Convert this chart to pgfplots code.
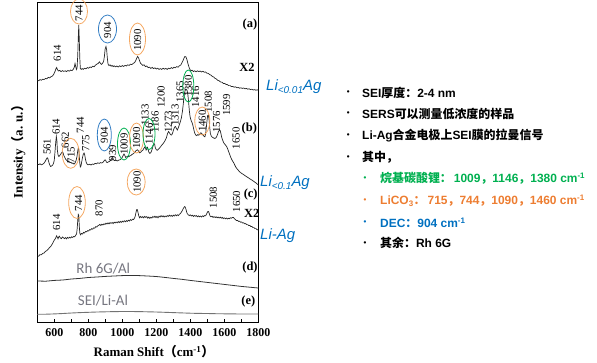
\documentclass[border=0pt]{standalone}
\usepackage{pgfplots}
\pgfplotsset{compat=1.18}
\usepackage{fontspec}
\setmainfont{Liberation Serif}
\newfontfamily\arial{Liberation Sans}
\newfontfamily\cjk{Noto Sans CJK SC Bold}
\newfontfamily\calibri{Carlito}
\newcommand\C[1]{{\cjk #1}}
\newcommand\pp[2]{(#1bp,-#2bp)}
\newcommand\pk{\fontsize{10.8}{10.8}\selectfont}
\definecolor{oran}{RGB}{245,168,98}
\definecolor{ellblue}{RGB}{50,125,195}
\definecolor{grn}{RGB}{0,176,80}
\definecolor{blu}{RGB}{0,112,192}
\definecolor{txtor}{RGB}{237,125,49}
\definecolor{gry}{RGB}{118,118,128}
\begin{document}
\begin{tikzpicture}
\useasboundingbox (0,0) rectangle (597bp,-363bp);
\begin{axis}[
  at={(37.3bp,-2.5bp)}, anchor=north west,
  scale only axis, width=221bp, height=319.5bp,
  xmin=500, xmax=1800, ymin=2.5, ymax=322, y dir=reverse,
  xtick={600,800,1000,1200,1400,1600,1800},
  xticklabels={600,800,1000,1200,1400,1600,1800},
  minor xtick={700,900,1100,1300,1500,1700},
  ytick=\empty, xtick pos=left,
  major tick length=3.5bp, minor tick length=3.5bp,
  tick style={black, line width=0.6pt},
  axis line style={black, line width=0.8pt},
  xticklabel style={font=\bfseries\fontsize{12}{12}\selectfont, yshift=-3.5bp},
  clip=false,
]
% (a)
\addplot[black!85, line width=0.7pt] coordinates {
(500,80)(508,80.8)(516,79.6)(524,80.2)(532,79.2)(540,79.6)(548,78.4)(556,78.8)(564,77.4)(572,77.9)
(580,76.8)(588,76.2)(596,74.5)(604,71.5)(610,68.5)(614,67.5)(618,69.5)(624,71)(632,70.4)(640,71.6)
(648,70.6)(656,71.4)(664,70.8)(672,71.6)(680,70.4)(688,71.2)(696,70)(704,70.6)(712,69.2)(718,67)
(722,63.5)(726,66.5)(730,69.5)(734,68)(738,55)(741,38)(744,25)(747,40)(750,58)(753,68.5)
(758,69.4)(764,68.6)(770,69.4)(778,68.2)(786,68.8)(794,67.6)(802,68.2)(810,67)(818,67.6)(826,66.2)
(834,66.8)(842,65.2)(850,64.2)(858,63.4)(866,61.8)(872,63.6)(878,64.4)(884,63.2)(890,61.5)(895,56)
(899,49)(904,46.5)(908,50)(912,58)(916,64)(922,65.6)(928,64.8)(934,66.2)(940,65.4)(946,66.6)
(952,65.8)(960,66.8)(968,66)(976,67)(984,65.8)(992,66.6)(1000,65.6)(1008,66.4)(1016,65.4)(1024,66)
(1032,64.8)(1040,65.4)(1048,64.2)(1056,64.6)(1064,63.4)(1072,62.6)(1078,61)(1084,58.5)(1090,56.5)(1096,58)
(1102,61)(1108,63.5)(1114,64.2)(1120,65.4)(1128,64.8)(1136,66.6)(1144,66)(1152,67.6)(1160,67.2)(1168,68.4)
(1176,67.4)(1184,68.6)(1192,67.8)(1200,69)(1208,68.2)(1216,69.4)(1224,68.6)(1232,69.4)(1240,68.2)(1248,69.2)
(1256,68.4)(1264,69.4)(1272,68.2)(1280,68.8)(1288,67.6)(1296,68.4)(1304,67.2)(1312,67.8)(1320,66.6)(1328,67.2)
(1336,65.8)(1344,65)(1350,63)(1356,61)(1362,58.5)(1368,56.5)(1374,56.8)(1380,59.5)(1386,63.5)(1392,67)
(1398,69.5)(1404,70.8)(1410,70.2)(1418,71.6)(1426,70.8)(1434,71.8)(1442,70.8)(1450,71.6)(1458,71)(1466,72)
(1474,71.2)(1482,72.2)(1490,72)(1498,73.2)(1506,73.4)(1514,74.6)(1522,75.2)(1530,76.6)(1538,77)(1546,78.4)
(1554,79)(1562,80.4)(1570,80.8)(1578,82)(1586,82.2)(1594,83.4)(1602,83.4)(1610,84.4)(1618,84.6)(1626,85.6)
(1634,85.6)(1642,86.6)(1650,86.4)(1658,87.2)(1666,86.8)(1674,87.8)(1682,87.4)(1690,88.2)(1698,87.8)(1706,88.4)
(1714,88)(1722,88.8)(1730,88.4)(1738,89.2)(1746,88.8)(1754,89.6)(1762,89.2)(1770,90)(1778,89.6)(1786,90.2)
(1794,89.8)(1800,90.2)};
% (b)
\addplot[black!85, line width=0.7pt] coordinates {
(500,164)(508,164.6)(516,163.8)(524,164.8)(532,164.2)(540,163)(546,161.5)(552,159.5)(558,157.8)(562,158.5)
(566,161)(572,164.5)(578,166.5)(584,166)(590,165.2)(596,163)(600,160)(604,152)(608,143)(612,136.5)
(615,140)(618,150)(622,155)(627,156.5)(632,155.5)(638,154)(644,152.5)(648,151.8)(652,153)(656,155.5)
(662,157.5)(668,159.6)(674,160.4)(680,161.8)(686,161.2)(692,162.6)(698,162.2)(704,163.4)(710,163)(716,164.2)
(722,163)(728,160.5)(733,157)(737,152)(741,148)(744,149)(747,156)(750,163)(753,167)(757,166)
(761,162)(766,157.5)(770,154.5)(775,153)(779,155)(783,159)(788,162.5)(794,164.5)(800,164.8)(808,164.2)
(816,165)(824,164)(832,164.4)(840,163.4)(848,163.8)(856,162.8)(864,163.4)(872,162.6)(880,163)(888,162)
(894,160.5)(898,159.8)(902,160.2)(906,162)(912,162.6)(918,161.8)(924,161.6)(930,160.4)(936,159)(940,157.6)
(944,158)(948,159.8)(954,160.6)(962,160)(970,161)(978,160.2)(986,159.8)(994,158.6)(1000,157.4)(1005,155.4)
(1010,154)(1015,155.5)(1020,157.4)(1026,156.8)(1032,156.2)(1038,156.8)(1044,155.8)(1050,155.6)(1056,154.6)(1062,154)
(1068,153.2)(1074,152)(1080,150.8)(1085,150.2)(1090,149.8)(1096,151.2)(1102,152.8)(1108,152.2)(1114,151)(1120,150.4)
(1126,148.6)(1132,147)(1136,147.8)(1140,150)(1144,148.8)(1148,147.4)(1152,149.6)(1156,152)(1162,153.4)(1168,152.6)
(1174,150)(1180,146.6)(1186,143.6)(1190,144.2)(1194,147.6)(1200,149.8)(1206,150.2)(1212,149.4)(1218,148.2)(1224,147)
(1230,145.6)(1236,144.4)(1242,143.2)(1248,141.6)(1254,139.8)(1260,137.5)(1266,133.5)(1272,131.5)(1278,133)(1284,134.8)
(1290,135)(1296,133)(1302,129.5)(1308,127)(1313,126.5)(1318,128.5)(1324,130)(1330,127.5)(1336,124.5)(1342,121.5)
(1348,117.5)(1354,111)(1358,105)(1362,99)(1366,93)(1370,90)(1374,89)(1378,89.5)(1382,91)(1386,95)
(1390,102)(1394,110)(1398,116)(1402,119)(1406,121)(1410,122.5)(1414,124.5)(1418,127.5)(1422,130.5)(1426,133)
(1432,135)(1438,135.6)(1444,134.6)(1450,135.2)(1456,134)(1462,132.8)(1468,133.6)(1474,134.8)(1480,136.2)(1486,136.8)
(1490,134)(1494,128)(1498,121)(1502,115.5)(1506,115)(1510,119)(1514,127)(1518,133.5)(1524,136.4)(1530,137.2)
(1536,137.8)(1542,138.4)(1548,138.2)(1554,137)(1560,134.5)(1566,131.5)(1572,130)(1576,130.6)(1580,133.5)(1585,137.5)
(1590,140)(1596,142.6)(1602,144)(1608,145.2)(1614,146.6)(1620,149)(1626,151.8)(1632,154.6)(1638,157.4)(1644,159.6)
(1650,161.4)(1656,163)(1662,165.2)(1668,167.2)(1674,168.6)(1680,169.8)(1688,171.4)(1696,172.6)(1704,173.6)(1712,174.4)
(1720,175.4)(1730,176.6)(1740,177.6)(1750,178.8)(1760,179.8)(1770,181)(1780,182.2)(1790,183.4)(1800,185)};
% (c)
\addplot[black!85, line width=0.7pt] coordinates {
(500,255.7)(508,256.2)(516,254.6)(524,254.8)(532,253.4)(540,253)(548,251.4)(556,250.6)(564,249.2)(572,247.6)
(580,246.2)(588,244)(594,242)(600,240)(606,238.8)(610,237.2)(614,235.8)(618,237.4)(622,238.8)(626,236.8)
(630,236.2)(636,238)(642,238.6)(648,237)(654,237.8)(660,238.6)(666,237.6)(672,238.8)(678,237.4)(684,238.2)
(690,237.2)(696,238)(702,236.8)(708,237.4)(714,236.4)(720,236.8)(726,235.2)(731,234)(735,228)(738,220)
(741,214.5)(744,215.5)(747,226)(750,233)(754,234.8)(760,233.4)(766,234)(772,232.4)(778,233)(784,231.4)
(790,231.8)(796,230.6)(802,231)(808,229.6)(814,230)(820,228.6)(826,229.2)(832,227.8)(838,228.2)(844,226.6)
(850,227)(856,225.8)(862,225.2)(868,224.4)(874,225.4)(880,224.2)(886,225)(892,223.8)(898,224.4)(904,223.2)
(910,224)(916,222.8)(922,223.8)(928,222.6)(934,223.4)(940,222.4)(946,223.6)(952,222.2)(958,223)(964,222)
(970,222.8)(976,221.6)(982,222.6)(988,221.4)(994,222.4)(1000,221.2)(1006,222)(1012,220.8)(1018,221.8)(1024,220.6)
(1030,221.4)(1036,220.2)(1042,221)(1048,219.6)(1054,220.4)(1060,219.2)(1066,219.6)(1072,218)(1077,215.5)(1081,212)
(1085,209.5)(1089,209.8)(1093,213)(1097,216)(1102,217.8)(1108,216.4)(1114,217.6)(1120,216.6)(1126,217.8)(1132,216.4)
(1138,217.4)(1144,216.6)(1150,218.2)(1156,217)(1162,218.4)(1168,217.2)(1174,218)(1180,216.4)(1186,217.4)(1192,216.2)
(1198,217.6)(1204,216.4)(1210,217.8)(1216,216.2)(1222,217)(1228,215.6)(1234,216.8)(1240,215.8)(1246,217)(1252,216)
(1258,216.8)(1264,215.6)(1270,216.4)(1276,215.2)(1282,216.2)(1288,215.4)(1294,216.4)(1300,215.2)(1306,216)(1312,214.8)
(1318,215.8)(1324,214.8)(1330,215.6)(1336,214.2)(1342,213.6)(1348,212)(1354,210.2)(1360,208.2)(1366,206.6)(1370,207)
(1374,209)(1378,211.6)(1382,213.6)(1388,214.8)(1394,215.6)(1400,214.8)(1406,216)(1412,215.2)(1418,216.4)(1424,215.4)
(1430,216.2)(1436,215.6)(1442,216.8)(1448,215.8)(1454,216.8)(1460,216)(1466,217)(1472,215.8)(1478,216.6)(1484,215.6)
(1490,215.8)(1496,214)(1500,212.4)(1504,211.4)(1508,211.6)(1512,213.8)(1516,216)(1522,216.8)(1528,216.2)(1534,217.4)
(1540,216.6)(1546,217.6)(1552,216.8)(1558,217.8)(1564,217)(1570,218)(1576,217.2)(1582,218.2)(1588,217.4)(1594,218.6)
(1600,217.8)(1606,218.8)(1612,218)(1618,219)(1624,218.2)(1630,218.8)(1636,217.8)(1642,218.2)(1648,217.4)(1654,217.4)
(1660,218.8)(1666,219.6)(1672,220.6)(1678,220.4)(1684,221.4)(1690,221.2)(1696,222.2)(1702,222)(1708,223)(1714,222.8)
(1720,223.8)(1726,223.6)(1732,224.6)(1738,224.6)(1744,225.6)(1750,225.4)(1756,226.6)(1762,226.4)(1768,227.6)(1774,227.6)
(1780,228.6)(1786,228.6)(1792,229.6)(1800,230)};
% (d)
\addplot[black!80, line width=0.8pt] coordinates {
(500,281)(550,281.2)(600,280.4)(650,280)(700,279)(750,278.4)(800,277.5)(850,277)(900,276.4)(950,276)
(1000,275.6)(1050,275.4)(1100,275.6)(1150,276)(1200,276.5)(1250,277.4)(1300,278.4)(1350,279.3)(1400,280.4)(1450,281.4)
(1500,282.4)(1550,283.4)(1600,284.4)(1650,285.4)(1700,286.4)(1750,287.2)(1800,288)};
% (e)
\addplot[black!55, line width=0.9pt] coordinates {
(500,314.3)(550,314.2)(600,313.9)(650,313.5)(700,313)(750,312.6)(800,312.3)(850,312)(900,311.8)(950,311.6)
(1000,311.5)(1050,311.5)(1100,311.6)(1150,311.8)(1200,312)(1250,312.3)(1300,312.6)(1350,312.9)(1400,313.2)(1450,313.4)
(1500,313.5)(1550,313.7)(1600,313.8)(1650,313.9)(1700,314)(1800,314)};
\end{axis}
% axis labels
\node[font=\bfseries\fontsize{13}{13}\selectfont] at \pp{154}{352} {Raman Shift\C{（}cm\textsuperscript{-1}\C{）}};
\node[font=\bfseries\fontsize{13}{13}\selectfont, rotate=90] at \pp{18.5}{148.5} {Intensity\C{（}a. u.\C{）}};
% panel letters
\begin{scope}[every node/.style={font=\bfseries\fontsize{12.5}{12.5}\selectfont}]
\node at \pp{250}{25} {(a)};
\node at \pp{247}{67} {X2};
\node at \pp{249.3}{128.3} {(b)};
\node at \pp{250.7}{195} {(c)};
\node at \pp{251.7}{213.3} {X2};
\node at \pp{250}{267.3} {(d)};
\node at \pp{248.3}{301.7} {(e)};
\end{scope}
\node[font=\calibri\fontsize{15}{15}\selectfont, text=gry] at \pp{103.3}{268.3} {Rh 6G/Al};
\node[font=\calibri\fontsize{15}{15}\selectfont, text=gry] at \pp{103}{300.7} {SEI/Li-Al};
% peak labels
\begin{scope}[every node/.style={font=\pk, rotate=90, inner sep=0pt}]
\node at \pp{57.3}{53} {614};
\node at \pp{79}{13} {744};
\node at \pp{107.5}{30} {904};
\node at \pp{137.5}{40} {1090};
\node at \pp{47}{146.7} {561};
\node at \pp{56}{126.7} {614};
\node at \pp{65.3}{140} {662};
\node at \pp{71}{155} {715};
\node at \pp{80.3}{125} {744};
\node at \pp{86}{143.3} {775};
\node at \pp{104.3}{135} {904};
\node at \pp{112.7}{153.3} {939};
\node at \pp{124}{144} {1009};
\node at \pp{136.5}{138} {1090};
\node at \pp{145}{115} {1133};
\node at \pp{149}{134} {1146};
\node at \pp{155}{122} {1186};
\node at \pp{161}{96.7} {1200};
\node at \pp{168.3}{121.7} {1273};
\node at \pp{175}{115} {1313};
\node at \pp{180}{91.7} {1365};
\node at \pp{188.3}{86} {1380};
\node at \pp{195.7}{96.7} {1416};
\node at \pp{202.3}{121} {1460};
\node at \pp{208.3}{101.7} {1508};
\node at \pp{216.7}{121.7} {1576};
\node at \pp{226.7}{105} {1599};
\node at \pp{236}{138.3} {1650};
\node at \pp{56.7}{222.5} {614};
\node at \pp{78.5}{203} {744};
\node at \pp{99}{208} {870};
\node at \pp{137}{182} {1090};
\node at \pp{213.3}{197.5} {1508};
\node at \pp{236.5}{201.5} {1650};
\end{scope}
% ellipses
\begin{scope}[line width=0.8pt]
\draw[oran] \pp{79}{11.5} ellipse [x radius=8.5bp, y radius=12.5bp];
\draw[ellblue] \pp{107.5}{29} ellipse [x radius=9bp, y radius=14bp];
\draw[oran] \pp{137.5}{39} ellipse [x radius=8bp, y radius=16bp];
\draw[oran] \pp{70.7}{153.3} ellipse [x radius=8.5bp, y radius=15bp];
\draw[ellblue] \pp{104.3}{135} ellipse [x radius=7bp, y radius=16bp];
\draw[grn] \pp{124}{144} ellipse [x radius=6.5bp, y radius=16bp];
\draw[oran] \pp{136.5}{138} ellipse [x radius=7bp, y radius=15bp];
\draw[grn] \pp{149}{134} ellipse [x radius=6bp, y radius=15.5bp];
\draw[grn] \pp{188.3}{86} ellipse [x radius=5.5bp, y radius=16bp];
\draw[oran] \pp{202.3}{121} ellipse [x radius=7.5bp, y radius=14bp];
\draw[oran] \pp{77}{202.5} ellipse [x radius=8.3bp, y radius=16bp];
\draw[oran] \pp{136.2}{182} ellipse [x radius=9bp, y radius=13bp];
\end{scope}
% blue sample labels
\begin{scope}[every node/.style={font=\arial\itshape\fontsize{15}{15}\selectfont, text=blu, anchor=base west, inner sep=0pt}]
\node at \pp{266}{90} {Li\raisebox{-3bp}{\fontsize{10}{10}\selectfont <0.01}Ag};
\node at \pp{260}{186.5} {Li\raisebox{-3bp}{\fontsize{10}{10}\selectfont <0.1}Ag};
\node at \pp{260}{239.5} {Li-Ag};
\end{scope}
% bullet list
\begin{scope}[every node/.style={font=\arial\bfseries\fontsize{12}{12}\selectfont, anchor=west, inner sep=0pt}]
\node[anchor=center,font=\arial\bfseries\fontsize{8}{8}\selectfont] at \pp{348.3}{92.7} {•};
\node[anchor=center,font=\arial\bfseries\fontsize{8}{8}\selectfont] at \pp{348.3}{114} {•};
\node[anchor=center,font=\arial\bfseries\fontsize{8}{8}\selectfont] at \pp{348.3}{135.7} {•};
\node[anchor=center,font=\arial\bfseries\fontsize{8}{8}\selectfont] at \pp{348.3}{157.3} {•};
\node at \pp{362}{92.7} {SEI\C{厚度：}2-4 nm};
\node at \pp{362}{114} {SERS\C{可以测量低浓度的样品}};
\node at \pp{362}{135.7} {Li-Ag\C{合金电极上}SEI\C{膜的拉曼信号}};
\node at \pp{362}{157.3} {\C{其中，}};
\node[anchor=center,font=\arial\bfseries\fontsize{8}{8}\selectfont,text=grn] at \pp{365}{178.3} {•};
\node[anchor=center,font=\arial\bfseries\fontsize{8}{8}\selectfont,text=txtor] at \pp{365}{200.7} {•};
\node[anchor=center,font=\arial\bfseries\fontsize{8}{8}\selectfont,text=blu] at \pp{365}{222.7} {•};
\node[anchor=center,font=\arial\bfseries\fontsize{8}{8}\selectfont] at \pp{365}{243.3} {•};
\node[text=grn] at \pp{380}{178.3} {\C{烷基碳酸锂：}\,1009\C{，}1146\C{，}1380 cm\textsuperscript{-1}};
\node[text=txtor] at \pp{380}{200.7} {LiCO\textsubscript{3}\C{：}\,715\C{，}744\C{，}1090\C{，}1460 cm\textsuperscript{-1}};
\node[text=blu] at \pp{380}{222.7} {DEC\C{：}904 cm\textsuperscript{-1}};
\node at \pp{380}{243.3} {\C{其余：}Rh 6G};
\end{scope}
\end{tikzpicture}
\end{document}
